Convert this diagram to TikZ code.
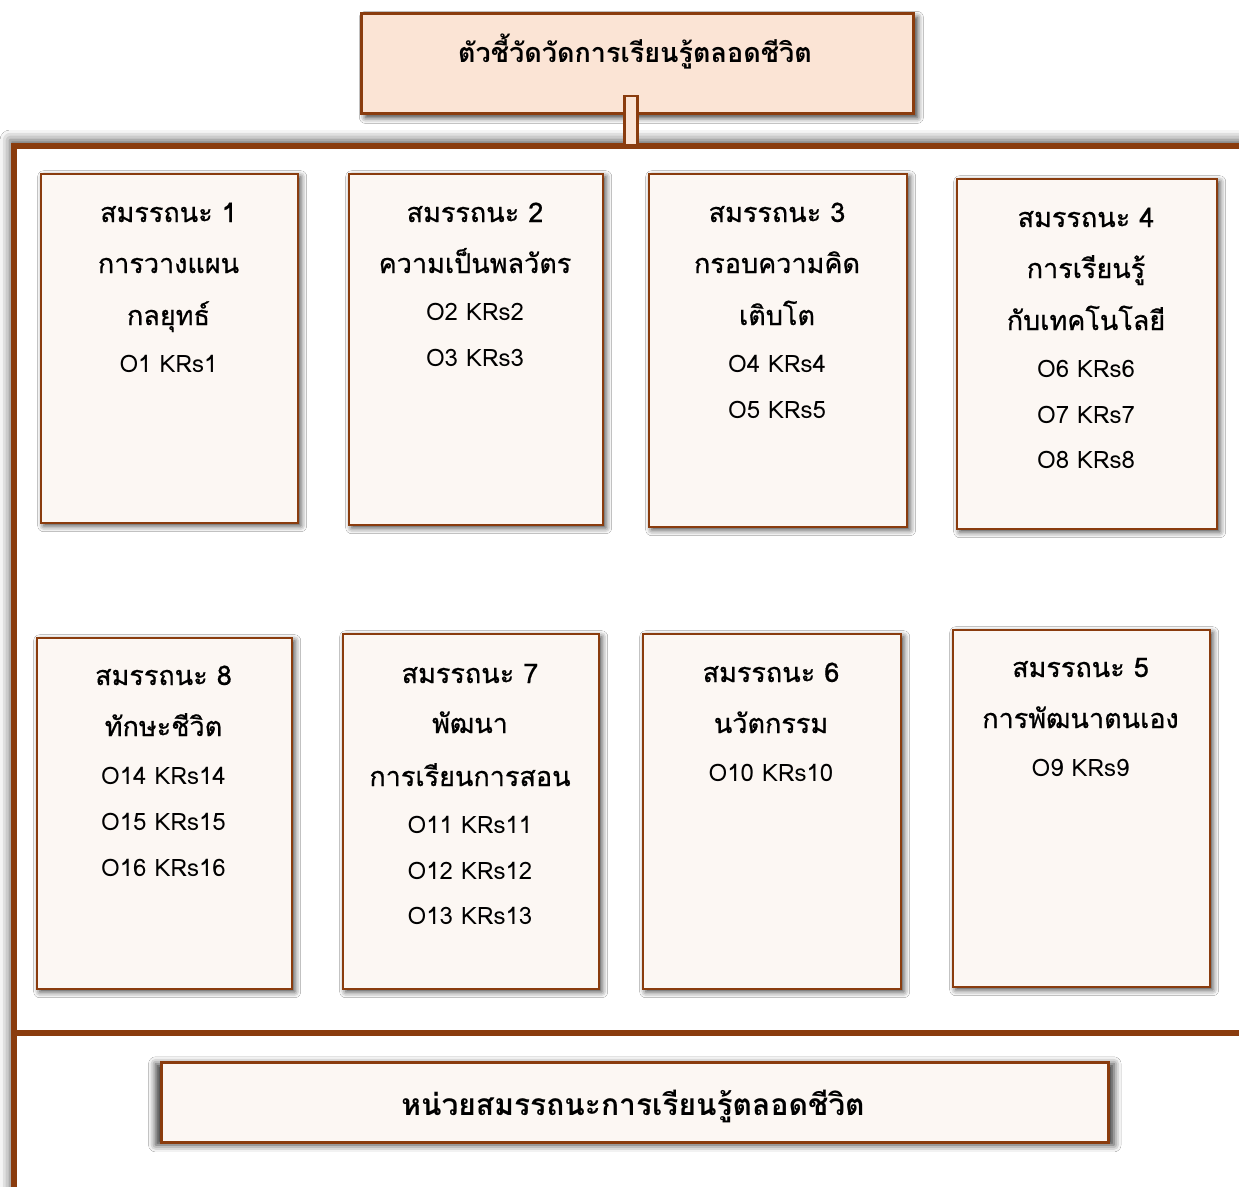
\documentclass[tikz,border=0pt]{standalone}
\usepackage{fontspec}
\setmainfont[Script=Thai]{Loma}
\newfontfamily\thaimed[Script=Thai, FakeBold=0.7]{Loma}
\usetikzlibrary{shadows.blur}

\definecolor{rim}{RGB}{138,60,14}
\definecolor{peach}{RGB}{251,228,213}
\definecolor{paper}{RGB}{252,247,243}

\tikzset{
  card/.style={draw=rim, line width=2.4pt, fill=paper, inner sep=0pt,
    anchor=north west,
    blur shadow={shadow xshift=2.5pt, shadow yshift=-2.5pt,
      shadow blur radius=6pt, shadow opacity=75}},
  lbl/.style={anchor=base, inner sep=0pt, font=\fontsize{24}{28}\selectfont},
  tlbl/.style={anchor=base, inner sep=0pt, font=\thaimed\fontsize{27}{31}\selectfont},
  headbox/.style={draw=rim, line width=2.8pt, fill=peach, inner sep=0pt,
    anchor=north west,
    blur shadow={shadow xshift=4pt, shadow yshift=-4pt,
      shadow blur radius=6pt, shadow opacity=80}},
  footbox/.style={draw=rim, line width=2.6pt, fill=paper, inner sep=0pt,
    anchor=north west,
    blur shadow={shadow xshift=0pt, shadow yshift=-2pt, shadow scale=1.012,
      shadow blur radius=7pt, shadow opacity=80}},
  stembox/.style={draw=rim, line width=2.2pt, fill=peach, inner sep=0pt,
    minimum width=13pt, minimum height=49pt},
  rail/.style={draw=rim, line width=6pt, line join=miter, line cap=rect},
}

\begin{document}
\begin{tikzpicture}[x=1pt, y=-1pt]
\useasboundingbox (0,0) rectangle (1239,1186);
\clip (0,0) rectangle (1239,1186);
\fill[white] (0,0) rectangle (1239,1186);

% outer frame with soft glow
\coordinate (ftl) at (14,146);
\coordinate (ftr) at (1260,146);
\coordinate (fbl) at (14,1210);
\coordinate (fml) at (14,1033);
\coordinate (fmr) at (1260,1033);
\path[fill=white, blur shadow={shadow xshift=-4pt, shadow yshift=6pt,
  shadow blur radius=10pt, shadow opacity=65}] (ftl) rectangle (1300,1300);
\draw[rail] (ftr) -- (ftl) -- (fbl);
\draw[rail] (fml) -- (fmr);

% heading
\node[headbox, minimum width=552pt, minimum height=100pt] (head) at (360,12) {};
\node[anchor=base, inner sep=0pt, font=\bfseries\fontsize{27}{31}\selectfont]
  (headtxt) at (635,62) {ตัวชี้วัดวัดการเรียนรู้ตลอดชีวิต};
\node[stembox] (stem) at (631,120.5) {};

% competency cards, first row
\node[card, minimum width=257pt, minimum height=349pt] (b1) at (40,173) {};
\node[card, minimum width=254pt, minimum height=351pt] (b2) at (348,173) {};
\node[card, minimum width=258pt, minimum height=353pt] (b3) at (648,173) {};
\node[card, minimum width=260pt, minimum height=350pt] (b4) at (956,178) {};
% second row
\node[card, minimum width=255pt, minimum height=351pt] (b8) at (36,637) {};
\node[card, minimum width=256pt, minimum height=355pt] (b7) at (342,633) {};
\node[card, minimum width=258pt, minimum height=355pt] (b6) at (642,633) {};
\node[card, minimum width=257pt, minimum height=357pt] (b5) at (952,629) {};

% Thai headings of each card
\foreach \t/\yy [count=\k] in {สมรรถนะ 1/222, การวางแผน/273, กลยุทธ์/325}
  \node[tlbl] (b1-\k) at (168.5,\yy) {\t};
\foreach \t/\yy [count=\k] in {สมรรถนะ 2/222, ความเป็นพลวัตร/273}
  \node[tlbl] (b2-\k) at (475,\yy) {\t};
\foreach \t/\yy [count=\k] in {สมรรถนะ 3/222, กรอบความคิด/273, เติบโต/325}
  \node[tlbl] (b3-\k) at (777,\yy) {\t};
\foreach \t/\yy [count=\k] in {สมรรถนะ 4/227, การเรียนรู้/278, กับเทคโนโลยี/330}
  \node[tlbl] (b4-\k) at (1086,\yy) {\t};
\foreach \t/\yy [count=\k] in {สมรรถนะ 8/685, ทักษะชีวิต/736}
  \node[tlbl] (b8-\k) at (163.5,\yy) {\t};
\foreach \t/\yy [count=\k] in {สมรรถนะ 7/683, พัฒนา/733, การเรียนการสอน/786}
  \node[tlbl] (b7-\k) at (470,\yy) {\t};
\foreach \t/\yy [count=\k] in {สมรรถนะ 6/682, นวัตกรรม/733}
  \node[tlbl] (b6-\k) at (771,\yy) {\t};
\foreach \t/\yy [count=\k] in {สมรรถนะ 5/677, การพัฒนาตนเอง/728}
  \node[tlbl] (b5-\k) at (1080.5,\yy) {\t};

% objective / key result lines
\foreach \t/\yy [count=\k] in {O1 KRs1/372}
  \node[lbl] (b1-o\k) at (168.5,\yy) {\t};
\foreach \t/\yy [count=\k] in {O2 KRs2/320, O3 KRs3/366}
  \node[lbl] (b2-o\k) at (475,\yy) {\t};
\foreach \t/\yy [count=\k] in {O4 KRs4/372, O5 KRs5/418}
  \node[lbl] (b3-o\k) at (777,\yy) {\t};
\foreach \t/\yy [count=\k] in {O6 KRs6/377, O7 KRs7/423, O8 KRs8/468}
  \node[lbl] (b4-o\k) at (1086,\yy) {\t};
\foreach \t/\yy [count=\k] in {O14 KRs14/784, O15 KRs15/830, O16 KRs16/876}
  \node[lbl] (b8-o\k) at (163.5,\yy) {\t};
\foreach \t/\yy [count=\k] in {O11 KRs11/833, O12 KRs12/879, O13 KRs13/924}
  \node[lbl] (b7-o\k) at (470,\yy) {\t};
\foreach \t/\yy [count=\k] in {O10 KRs10/781}
  \node[lbl] (b6-o\k) at (771,\yy) {\t};
\foreach \t/\yy [count=\k] in {O9 KRs9/776}
  \node[lbl] (b5-o\k) at (1080.5,\yy) {\t};

% unit footer
\node[footbox, minimum width=947pt, minimum height=80pt] (foot) at (160,1061) {};
\node[anchor=base, inner sep=0pt, font=\bfseries\fontsize{30}{34}\selectfont]
  (foottxt) at (633,1115) {หน่วยสมรรถนะการเรียนรู้ตลอดชีวิต};
\end{tikzpicture}
\end{document}
